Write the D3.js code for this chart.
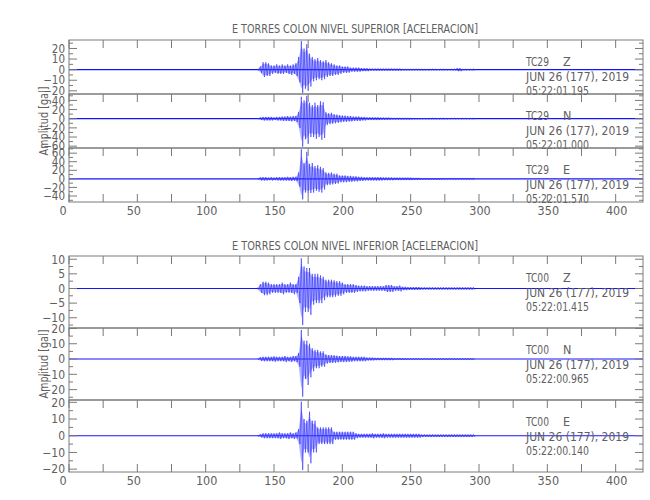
<!DOCTYPE html>
<html><head><meta charset="utf-8">
<script src="https://cdn.jsdelivr.net/npm/d3@7"></script>
<style>
body{margin:0;background:#fff}
svg text{font-family:"Liberation Sans Narrow","DejaVu Sans Condensed","Liberation Sans",sans-serif;fill:#606060;white-space:pre}
</style></head><body>
<svg id="c" width="650" height="500"></svg>
<script>
// ---------- data ----------
const xTicks = [0,50,100,150,200,250,300,350,400];
const xMinorTicks = [25,75,125,175,225,275,325,375];
const xDomain = [0,420];
const titles = ["E TORRES COLON NIVEL SUPERIOR [ACELERACION]","E TORRES COLON NIVEL INFERIOR [ACELERACION]"];
const stations = ["TC29","TC29","TC29","TC00","TC00","TC00"];
const components = ["Z","N","E","Z","N","E"];
const dates = ["JUN 26 (177), 2019","JUN 26 (177), 2019","JUN 26 (177), 2019","JUN 26 (177), 2019","JUN 26 (177), 2019","JUN 26 (177), 2019"];
const startTimes = ["05:22:01.195","05:22:01.000","05:22:01.570","05:22:01.415","05:22:00.965","05:22:00.140"];
const yLabel = "Amplitud [gal]";
const yDomains = [[-23,28],[-64,54],[-54,72],[-13.5,11.1],[-26.8,20.3],[-21.7,21.4]];
const yTicks = [[20,10,0,-10,-20],[40,20,0,-20,-40,-60],[60,40,20,0,-20,-40],[10,5,0,-5,-10],[20,10,0,-10,-20],[20,10,0,-10,-20]];

// peak envelopes in 2-s bins starting at t = 138 s (positive peak, negative peak magnitude)
const binStart = 138, binStep = 2;
const topZUp = [0.5,3,7,7,6,4,4,5,4,5, 4,5,4,5,6,12,27,20,24,15, 12,10,11,9,8,9,7,6,5,4, 4,3,3,3,2,2,2,2,1.5,1.5, 1.5,1,1,1,1,1,1,1,1,1, 1,1,1,0.8,0.8,0.8,0.8,0.8,0.8,0.8, 0.8,0.6,0.6,0.6,0.6,0.6,0.6,0.6,0.6,0.6, 0.6,0.6,0.6,1.5,1.5,0.6,0.6,0.6,0.6,0.6];
const topZDn = [0.5,3,7,6,6,4,3,4,4,4, 3,4,5,4,6,12,22,18,20,16, 11,10,9,10,9,7,6,6,5,5, 4,3,3,3,2,2,2,2,1.5,1.5, 1.5,1,1,1,1,1,1,1,1,1, 1,1,1,0.8,0.8,0.8,0.8,0.8,0.8,0.8, 0.8,0.6,0.6,0.6,0.6,0.6,0.6,0.6,0.6,0.6, 0.6,0.6,0.6,1.5,1.5,0.6,0.6,0.6,0.6,0.6];
const topNUp = [0.5,3,4,4,4,4,3,4,4,5, 5,6,5,6,6,15,48,40,50,35, 30,35,30,38,36,14,12,13,10,9, 8,7,7,6,6,5,5,5,4,4, 3,3,3,3,3,2.5,2.5,2.5,2.5,2, 2,2,2,2,2,2,2,1.5,1.5,1.5, 1.5,1.5,1.5,1.2,1.2,1.2,1.2,1.2,1.2,1.2, 1,1,1,1,1,1,1,1,1,1];
const topNDn = [0.5,3,4,4,4,4,3,4,4,5, 5,5,6,5,7,20,61,45,55,40, 40,44,40,46,42,14,12,11,10,9, 8,7,7,6,6,5,5,5,4,4, 3,3,3,3,3,2.5,2.5,2.5,2.5,2, 2,2,2,2,2,2,2,1.5,1.5,1.5, 1.5,1.5,1.5,1.2,1.2,1.2,1.2,1.2,1.2,1.2, 1,1,1,1,1,1,1,1,1,1];
const topEUp = [0.5,4,4,4,3,4,3,4,4,4, 4,5,4,5,5,15,69,37,63,35, 37,30,32,28,25,15,14,15,12,12, 8,8,8,7,7,6,6,5,5,4, 4,4,4,4,4,4,3.5,3.5,3.5,3.5, 3,3,3,3,3,3,3,2.5,2.5,2.5, 2,2,2,2,2,2,2,2,1.5,1.5, 1.5,1.5,1.5,1.5,1.5,1.5,1.5,1.5,1.5,1.5];
const topEDn = [0.5,4,4,4,3,4,3,4,4,4, 4,4,5,4,5,18,48,32,35,33, 32,28,30,32,25,15,14,13,12,11, 8,8,8,7,7,6,6,5,5,4, 4,4,4,4,4,4,3.5,3.5,3.5,3.5, 3,3,3,3,3,3,3,2.5,2.5,2.5, 2,2,2,2,2,2,2,2,1.5,1.5, 1.5,1.5,1.5,1.5,1.5,1.5,1.5,1.5,1.5,1.5];
const lowZUp = [0.3,1.5,2.3,2.3,2,1.5,1.5,1.5,1.5,2, 1.5,1.5,2,1.5,1.5,4,10.3,7.5,7,7, 5,5,5,4.5,4,3,3,3,2.8,2.5, 2.5,2,1.5,1.5,1.5,1.5,1.2,1,1,1, 0.8,0.8,0.8,0.8,0.8,0.8,0.8,1.2,1.2,1.2, 0.8,0.8,1,0.6,0.6,0.5,0.5,0.5,0.5,0.5, 0.4,0.4,0.4,0.4,0.4,0.4,0.4,0.4,0.4,0.4, 0.4,0.4,0.4,0.4,0.4,0.4,0.4,0.4,0.4,0.4];
const lowZDn = [0.3,1.5,2.3,2.3,2,1.5,1.5,1.5,1.5,2, 1.5,1.5,1.5,2,1.5,5,12.5,8,8,9, 5.5,5,5,5,4,3,3,3,2.8,2.5, 2.5,2,1.5,1.5,1.5,1.5,1.2,1,1,1, 0.8,0.8,0.8,0.8,0.8,0.8,0.8,1.2,1.2,1.2, 0.8,0.8,1,0.6,0.6,0.5,0.5,0.5,0.5,0.5, 0.4,0.4,0.4,0.4,0.4,0.4,0.4,0.4,0.4,0.4, 0.4,0.4,0.4,0.4,0.4,0.4,0.4,0.4,0.4,0.4];
const lowNUp = [0.3,1.3,1.5,1.5,1.5,1.5,1.8,1.5,1.5,1.5, 2,1.5,1.5,2,2,4,19,12,12,10, 7,6,6,5,5,3,2.6,2.6,2.5,2.2, 2,2,2,1.8,1.8,1.5,1.5,1.5,1.5,1.5, 1,1,1,0.8,0.8,0.8,0.8,0.8,0.8,0.8, 0.6,0.6,0.6,0.6,0.6,0.5,0.5,0.5,0.5,0.5, 0.5,0.5,0.5,0.5,0.5,0.5,0.5,0.5,0.5,0.5, 0.5,0.5,0.5,0.5,0.5,0.5,0.5,0.5,0.5,0.5];
const lowNDn = [0.3,1.3,1.5,1.5,1.5,1.5,1.8,1.5,1.5,1.5, 2,1.5,2,1.5,2,5,24.6,13,17,12, 8,6,6,5,5,3,2.6,2.6,2.5,2.2, 2,2,2,1.8,1.8,1.5,1.5,1.5,1.5,1.5, 1,1,1,0.8,0.8,0.8,0.8,0.8,0.8,0.8, 0.6,0.6,0.6,0.6,0.6,0.5,0.5,0.5,0.5,0.5, 0.5,0.5,0.5,0.5,0.5,0.5,0.5,0.5,0.5,0.5, 0.5,0.5,0.5,0.5,0.5,0.5,0.5,0.5,0.5,0.5];
const lowEUp = [0.3,1,1.5,1.5,1.5,1.5,1.5,1.5,2,1.5, 1.5,1.5,2,1.5,2,4,20.4,10,9,14.4, 9,9,5,5,5,5,5,5,2.4,2.4, 2.4,2.4,2.4,2.4,2.4,2.4,1.5,1.2,1.2,1.2, 1.2,1.2,1.5,1.2,1.2,1.2,1.5,1.2,1.2,1.2, 1.2,1.2,1.2,1.2,1.2,1.2,1.2,1.2,1.2,1.2, 0.8,0.8,0.8,0.8,0.8,0.8,0.8,0.8,0.8,0.8, 0.8,0.8,0.8,0.8,0.8,0.8,0.8,0.8,0.8,0.8];
const lowEDn = [0.3,1,1.5,1.5,1.5,1.5,1.5,1.5,2,1.5, 1.5,2,1.5,2,1.5,5,20.5,10,10,16.5, 10,10,5,5,5,5,5,5,2.4,2.4, 2.4,2.4,2.4,2.4,2.4,2.4,1.5,1.2,1.2,1.2, 1.2,1.2,1.5,1.2,1.2,1.2,1.5,1.2,1.2,1.2, 1.2,1.2,1.2,1.2,1.2,1.2,1.2,1.2,1.2,1.2, 0.8,0.8,0.8,0.8,0.8,0.8,0.8,0.8,0.8,0.8, 0.8,0.8,0.8,0.8,0.8,0.8,0.8,0.8,0.8,0.8];
const ups = [topZUp, topNUp, topEUp, lowZUp, lowNUp, lowEUp];
const dns = [topZDn, topNDn, topEDn, lowZDn, lowNDn, lowEDn];

// ---------- layout ----------
const svg = d3.select("#c");
const L = 69, R = 643;
const panelTops = [40, 256];
const traceH = [54, 72];
const x = d3.scaleLinear().domain(xDomain).range([L, R]);
const frameCol = "#7a7a7a";
const sigCol = "#1414ff";

function xLabelDx(s){ return s.length===1 ? -6 : (s.length===2 ? -3.5 : 1); }

panelTops.forEach((top, p) => {
  const h = traceH[p];
  const g = svg.append("g");
  // title
  g.append("text").attr("x", (L+R)/2 - 1).attr("y", top - 7 + (p===1 ? 1 : 0))
    .attr("text-anchor","middle").attr("font-size",13)
    .attr("textLength",246).attr("lengthAdjust","spacingAndGlyphs")
    .text(titles[p]);
  // y label
  const cy = top + 1.5*h;
  g.append("text").attr("transform",`translate(48,${cy}) rotate(-90)`)
    .attr("text-anchor","middle").attr("font-size",13)
    .attr("textLength",69).attr("lengthAdjust","spacingAndGlyphs")
    .text(yLabel);

  for (let k=0;k<3;k++){
    const i = p*3 + k;
    const t0 = top + k*h, t1 = t0 + h;
    const y = d3.scaleLinear().domain(yDomains[i]).range([t1, t0]);
    const tg = g.append("g");
    const cid = "clip"+i;
    tg.append("clipPath").attr("id",cid).append("rect")
      .attr("x",L).attr("y",t0).attr("width",R-L).attr("height",h);
    const sg = tg.append("g").attr("clip-path",`url(#${cid})`);
    // baseline (quiet record)
    sg.append("path").attr("d", d3.line()([[x(xDomain[0]), y(0)],[x(xDomain[1]), y(0)]]))
      .attr("stroke", sigCol).attr("stroke-width", p===0?1.2:1.1).attr("fill","none");
    // envelope fill
    const env = ups[i].map((u, j) => ({t: binStart + j*binStep, u, d: dns[i][j]}));
    sg.append("path").datum(env)
      .attr("d", d3.area().x(e => x(e.t)).y0(e => y(-e.d * 0.8)).y1(e => y(e.u * 0.8)))
      .attr("fill", "#5a5aff").attr("fill-opacity", 0.45);
    // oscillation zigzag
    const pts = [];
    env.forEach(e => {
      pts.push([x(e.t), y(e.u)]);
      pts.push([x(e.t + binStep/2), y(-e.d)]);
    });
    sg.append("path").attr("d", d3.line()(pts))
      .attr("stroke", sigCol).attr("stroke-width", 0.6).attr("stroke-opacity",0.85).attr("fill","none");

    // frame
    tg.append("rect").attr("x",L).attr("y",t0).attr("width",R-L).attr("height",h)
      .attr("fill","none").attr("stroke",frameCol).attr("stroke-width",1);

    xTicks.concat(xMinorTicks).forEach(v => {
      tg.append("line").attr("x1",x(v)).attr("x2",x(v)).attr("y1",t0).attr("y2",t0+8)
        .attr("stroke",frameCol);
    });
    if (k===2){
      xTicks.concat(xMinorTicks).forEach(v => {
        tg.append("line").attr("x1",x(v)).attr("x2",x(v)).attr("y1",t1).attr("y2",t1-8)
          .attr("stroke",frameCol);
      });
      xTicks.forEach(v => {
        const s = String(v);
        tg.append("text").attr("x",x(v)+xLabelDx(s)).attr("y",t1+13)
          .attr("text-anchor","middle").attr("font-size",12.5).text(s);
      });
    }
    const yt = yTicks[i];
    const step = Math.abs(yt[0]-yt[1]);
    const minors = [];
    for (let v = yt[yt.length-1] - step/2; v <= yt[0] + step/2; v += step) {
      if (v > yDomains[i][0] && v < yDomains[i][1]) minors.push(v);
    }
    const fs = p===0 ? 11.5 : 12;
    yt.forEach(v => {
      tg.append("line").attr("x1",L).attr("x2",L+8).attr("y1",y(v)).attr("y2",y(v)).attr("stroke",frameCol);
      tg.append("line").attr("x1",R).attr("x2",R-8).attr("y1",y(v)).attr("y2",y(v)).attr("stroke",frameCol);
      tg.append("text").attr("x",65).attr("y",y(v)).attr("dy","0.36em")
        .attr("text-anchor","end").attr("font-size",fs).text(String(v).replace("-","\u2212"));
    });
    minors.forEach(v => {
      tg.append("line").attr("x1",L).attr("x2",L+4).attr("y1",y(v)).attr("y2",y(v)).attr("stroke",frameCol);
      tg.append("line").attr("x1",R).attr("x2",R-4).attr("y1",y(v)).attr("y2",y(v)).attr("stroke",frameCol);
    });

    const ax = 526;
    tg.append("text").attr("x",ax).attr("y",t0+25.5).attr("font-size",12.5)
      .attr("textLength",23).attr("lengthAdjust","spacingAndGlyphs").text(stations[i]);
    tg.append("text").attr("x",ax+37).attr("y",t0+25.5).attr("font-size",12.5).text(components[i]);
    tg.append("text").attr("x",ax).attr("y",t0+40.5).attr("font-size",12.5)
      .attr("textLength",103).attr("lengthAdjust","spacingAndGlyphs").text(dates[i]);
    tg.append("text").attr("x",ax).attr("y",t0+55).attr("font-size",12.5)
      .attr("textLength",63).attr("lengthAdjust","spacingAndGlyphs").text(startTimes[i]);
  }
});
</script>
</body></html>
